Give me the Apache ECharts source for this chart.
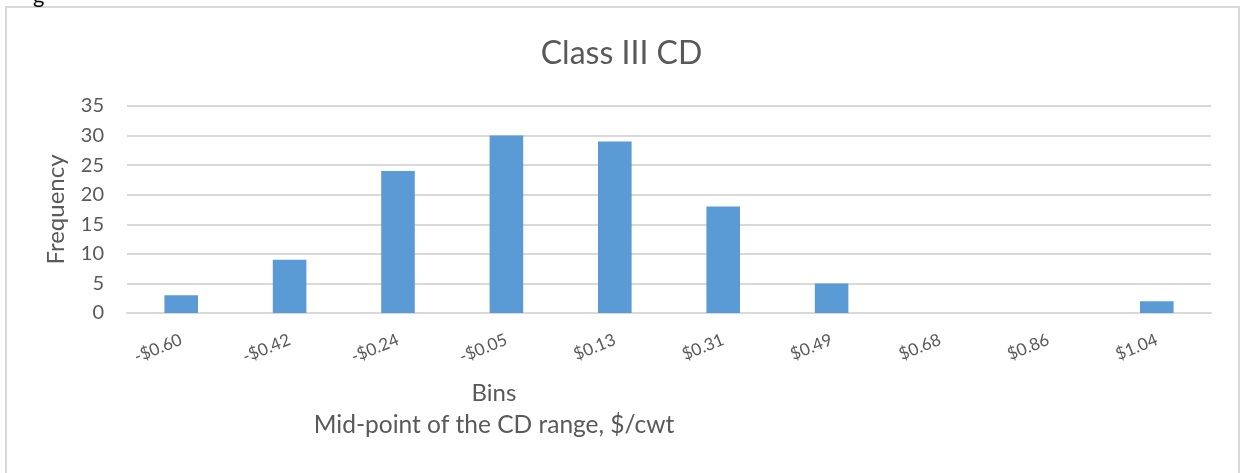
<!DOCTYPE html>
<html>
<head>
<meta charset="utf-8">
<script src="https://cdn.jsdelivr.net/npm/echarts@6/dist/echarts.min.js"></script>
<style>
  html, body { margin: 0; padding: 0; background: #fff; }
  #chart { width: 1243px; height: 473px; }
</style>
</head>
<body>
<div id="chart"></div>
<script>
// Histogram of Class III CD mid-points
const bins = ['-$0.60', '-$0.42', '-$0.24', '-$0.05', '$0.13', '$0.31', '$0.49', '$0.68', '$0.86', '$1.04'];
const frequency = [3, 9, 24, 30, 29, 18, 5, 0, 0, 2];
const yTicks = { min: 0, max: 35, interval: 5 };

const textColor = '#595959';
const lineColor = '#d9d9d9';
const font = 'Lato, "Open Sans", sans-serif';

const chart = echarts.init(document.getElementById('chart'), null, { renderer: 'canvas' });

chart.setOption({
  animation: false,
  backgroundColor: '#fff',
  title: {
    text: 'Class III CD',
    left: 'center',
    top: 33,
    textStyle: { fontFamily: font, fontSize: 32, fontWeight: 'normal', color: textColor }
  },
  grid: { left: 127, right: 32, top: 106, bottom: 160 },
  xAxis: {
    type: 'category',
    data: bins,
    axisLine: { lineStyle: { color: lineColor, width: 2 } },
    axisTick: { show: false },
    axisLabel: {
      rotate: 22,
      margin: 26,
      color: textColor,
      fontFamily: font,
      fontSize: 17
    }
  },
  yAxis: {
    type: 'value',
    min: yTicks.min,
    max: yTicks.max,
    interval: yTicks.interval,
    name: 'Frequency',
    nameLocation: 'middle',
    nameGap: 59,
    nameRotate: 90,
    nameTextStyle: { fontFamily: font, fontSize: 24, color: textColor },
    axisLine: { show: false },
    axisTick: { show: false },
    axisLabel: { color: textColor, fontFamily: font, fontSize: 20, margin: 23 },
    splitLine: { lineStyle: { color: lineColor, width: 2 } }
  },
  series: [{
    type: 'bar',
    data: frequency,
    barWidth: '31%',
    itemStyle: { color: '#5b9bd5' }
  }],
  graphic: [
    {
      type: 'rect',
      shape: { x: 6, y: 7, width: 1233, height: 480 },
      style: { fill: 'none', stroke: lineColor, lineWidth: 2 },
      silent: true
    },
    {
      type: 'text',
      x: 33,
      y: -15,
      style: { text: 'g', fontFamily: font, fontSize: 22, fill: '#000' }
    },
    {
      type: 'text',
      x: 494,
      y: 393,
      style: {
        text: 'Bins',
        fontFamily: font, fontSize: 24, fill: textColor,
        align: 'center', verticalAlign: 'middle'
      }
    },
    {
      type: 'text',
      x: 494,
      y: 425,
      style: {
        text: 'Mid-point of the CD range, $/cwt',
        fontFamily: font, fontSize: 24.5, fill: textColor,
        align: 'center', verticalAlign: 'middle'
      }
    }
  ]
});
</script>
</body>
</html>
